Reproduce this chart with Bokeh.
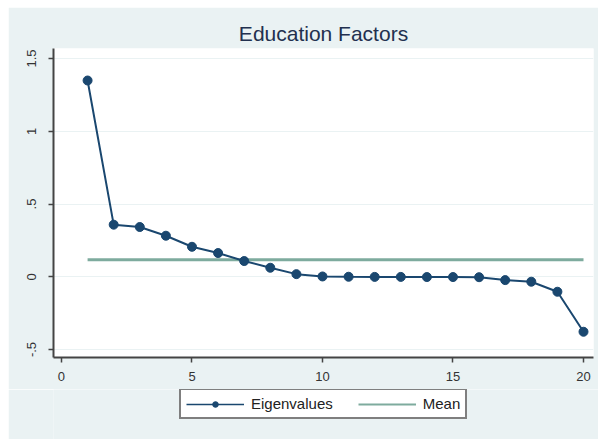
from bokeh.plotting import figure
from bokeh.layouts import column
from bokeh.models import Range1d, FixedTicker, Legend, LegendItem
from bokeh.embed import file_html
from bokeh.resources import INLINE

# ---- data ----
factor_numbers = [1, 2, 3, 4, 5, 6, 7, 8, 9, 10, 11, 12, 13, 14, 15, 16, 17, 18, 19, 20]
eigenvalues = [1.349, 0.358, 0.342, 0.282, 0.206, 0.163, 0.108, 0.062, 0.018, 0.002,
               0.000, -0.001, -0.001, -0.002, -0.002, -0.003, -0.023, -0.034, -0.103, -0.378]
mean_value = 0.117
mean_x = [1, 20]
x_ticks = [0, 5, 10, 15, 20]
y_ticks = [-0.5, 0, 0.5, 1, 1.5]
y_tick_labels = ["-.5", "0", ".5", "1", "1.5"]
title_text = "Education Factors"
series_labels = ["Eigenvalues", "Mean"]

FONT = "Liberation Sans"
BG = "#eaf2f3"
NAVY = "#1a476f"
TEAL = "#7eab9e"

# ---- main chart ----
p = figure(frame_width=540, frame_height=309, output_backend="svg", toolbar_location=None,
           x_range=Range1d(-0.306, 20.383), y_range=Range1d(-0.555, 1.569),
           min_border_left=45, min_border_right=5, min_border_top=41, min_border_bottom=32,
           title=title_text)
p.margin = (7, 0, 0, 8)

p.border_fill_color = BG
p.background_fill_color = "white"
p.outline_line_color = None

p.title.align = "center"
p.title.text_font = FONT
p.title.text_font_size = "21px"
p.title.text_font_style = "normal"
p.title.text_color = "#22304f"
p.title.standoff = 8

for ax in (p.xaxis[0], p.yaxis[0]):
    ax.axis_line_color = "#444444"
    ax.axis_line_width = 2
    ax.major_tick_line_color = "#444444"
    ax.major_tick_line_width = 1.5
    ax.major_tick_out = 5
    ax.major_tick_in = 0
    ax.minor_tick_line_color = None
    ax.major_label_text_font = FONT
    ax.major_label_text_font_size = "13px"
    ax.major_label_text_color = "#333333"

p.xaxis.major_label_standoff = 9
p.yaxis.major_label_standoff = 12
p.xaxis.ticker = FixedTicker(ticks=x_ticks)
p.yaxis.ticker = FixedTicker(ticks=y_ticks)
p.yaxis.major_label_overrides = {float(k): v for k, v in zip(y_ticks, y_tick_labels)}
p.yaxis.major_label_orientation = "vertical"

p.xgrid.visible = False
p.ygrid.ticker = FixedTicker(ticks=y_ticks)
p.ygrid.grid_line_color = BG
p.ygrid.grid_line_width = 1

p.line(mean_x, [mean_value, mean_value], line_color=TEAL, line_width=3)
p.line(factor_numbers, eigenvalues, line_color=NAVY, line_width=2)
p.scatter(factor_numbers, eigenvalues, marker="circle", size=9,
          fill_color=NAVY, line_color=NAVY)

# ---- legend strip (same styles, drawn by Bokeh's Legend) ----
lg = figure(frame_width=590, frame_height=50, output_backend="svg", toolbar_location=None,
            x_range=Range1d(0, 1), y_range=Range1d(0, 1),
            x_axis_type=None, y_axis_type=None,
            min_border_left=0, min_border_right=0, min_border_top=0, min_border_bottom=0)
lg.margin = (0, 0, 0, 8)
lg.border_fill_color = BG
lg.background_fill_color = BG
lg.outline_line_color = None
lg.xgrid.visible = False
lg.ygrid.visible = False

# legend-key renderers: one point outside the strip's visible range, so only the keys show
off = [-5]
leg_eig_line = lg.line(off, off, line_color=NAVY, line_width=1.5)
leg_eig_pts = lg.scatter(off, off, marker="circle", size=9, fill_color=NAVY, line_color=NAVY)
leg_mean = lg.line(off, off, line_color=TEAL, line_width=2)

legend = Legend(items=[LegendItem(label=series_labels[0], renderers=[leg_eig_line, leg_eig_pts]),
                       LegendItem(label=series_labels[1], renderers=[leg_mean])],
                orientation="horizontal", location=(171, 20))
legend.border_line_color = "black"
legend.border_line_width = 2
legend.background_fill_color = "white"
legend.background_fill_alpha = 1
legend.padding = 5
legend.spacing = 25
legend.margin = 0
legend.glyph_width = 58
legend.glyph_height = 14
legend.label_height = 14
legend.label_standoff = 7
legend.label_text_font = FONT
legend.label_text_font_size = "15px"
legend.label_text_color = "#222222"
lg.add_layout(legend, "center")

page = column(p, lg, spacing=0)
open("out.html", "w").write(file_html(page, INLINE))
